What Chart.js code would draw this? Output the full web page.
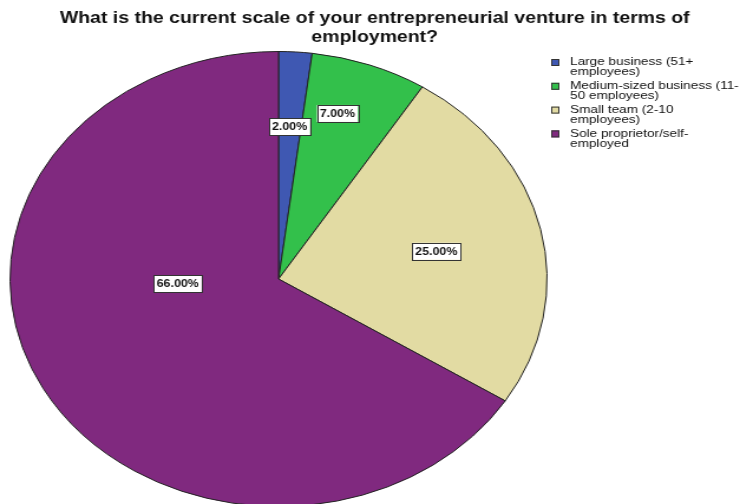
<!DOCTYPE html>
<html>
<head>
<meta charset="utf-8">
<script src="https://cdn.jsdelivr.net/npm/chart.js@4.4.1/dist/chart.umd.min.js"></script>
<style>
  html, body { margin: 0; padding: 0; background: #fff; overflow: hidden; }
  #pie_chart { display: block; }
</style>
</head>
<body>
<canvas id="pie_chart" width="627" height="520" style="width: 740px; height: 520px;"></canvas>
<script>
var titleLines = ["What is the current scale of your entrepreneurial venture in terms of", "employment?"];
var categories = [
    ["Large business (51+", "employees)"],
    ["Medium-sized business (11-", "50 employees)"],
    ["Small team (2-10", "employees)"],
    ["Sole proprietor/self-", "employed"]
];
var shares = [2, 7, 25, 66];
var colors = ['#3f58b2', '#33c04b', '#e2dba3', '#80297f'];

// where each percent box sits inside its slice: share of the slice angle, share of the radius
var labelAngle = [0.49, 0.38, 0.51, 0.608];
var labelRadius = [0.67, 0.76, 0.60, 0.376];

var ink = '#111';

var decorations = {
    id: 'decorations',
    afterDraw: function(chart) {
        var ctx = chart.ctx;
        var meta = chart.getDatasetMeta(0);
        ctx.save();

        // title
        ctx.fillStyle = ink;
        ctx.textAlign = 'center';
        ctx.textBaseline = 'middle';
        ctx.font = 'bold 16.5px "Liberation Sans", Arial, sans-serif';
        titleLines.forEach(function(line, i) {
            ctx.fillText(line, chart.width / 2 + 4, 18 + i * 19.5);
        });

        // percent boxes
        ctx.font = 'bold 10.5px "Liberation Sans", Arial, sans-serif';
        meta.data.forEach(function(arc, i) {
            var p = arc.getProps(['x', 'y', 'startAngle', 'endAngle', 'outerRadius'], true);
            var a = p.startAngle + labelAngle[i] * (p.endAngle - p.startAngle);
            var r = p.outerRadius * labelRadius[i];
            var cx = p.x + Math.cos(a) * r;
            var cy = p.y + Math.sin(a) * r;
            var text = shares[i].toFixed(2) + '%';
            var w = ctx.measureText(text).width + 5;
            var h = 17;
            ctx.fillStyle = '#fff';
            ctx.fillRect(cx - w / 2, cy - h / 2, w, h);
            ctx.strokeStyle = '#333';
            ctx.lineWidth = 1;
            ctx.strokeRect(Math.round(cx - w / 2) + 0.5, Math.round(cy - h / 2) + 0.5, Math.round(w), h);
            ctx.fillStyle = ink;
            ctx.fillText(text, cx, cy + 0.5);
        });

        // legend
        ctx.textAlign = 'left';
        ctx.font = '11.5px "Liberation Sans", Arial, sans-serif';
        categories.forEach(function(lines, i) {
            var top = 62 + i * 23.8;
            ctx.fillStyle = colors[i];
            ctx.fillRect(467, top - 3, 7, 7);
            ctx.strokeStyle = '#333';
            ctx.strokeRect(467.5, top - 2.5, 6, 6);
            ctx.fillStyle = ink;
            lines.forEach(function(line, j) {
                ctx.fillText(line, 483, top + j * 10);
            });
        });

        ctx.restore();
    }
};

var config = {
    type: 'pie',
    data: {
        labels: categories.map(function(l) { return l.join(' '); }),
        datasets: [{
            data: shares,
            backgroundColor: colors,
            borderColor: '#222',
            borderWidth: 1
        }]
    },
    options: {
        responsive: false,
        animation: false,
        layout: {
            padding: { left: 8, right: 163, top: 51, bottom: 13 }
        },
        plugins: {
            legend: false,
            title: { display: false },
            tooltip: { enabled: false }
        }
    },
    plugins: [decorations]
};

new Chart(document.getElementById("pie_chart").getContext("2d"), config);
</script>
</body>
</html>
